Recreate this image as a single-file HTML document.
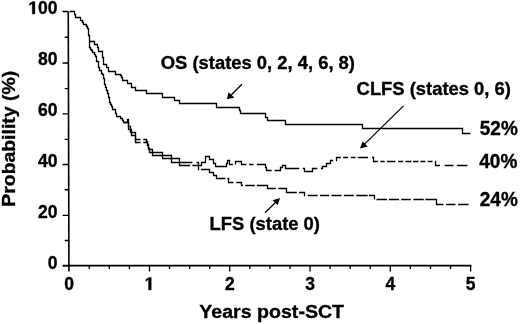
<!DOCTYPE html>
<html><head><meta charset="utf-8"><style>
html,body{margin:0;padding:0;background:#fff;}
svg{display:block;filter:blur(0.45px);}
text{font-family:"Liberation Sans",sans-serif;font-weight:bold;fill:#000;stroke:#000;stroke-width:0.35px;}
</style></head><body>
<svg width="520" height="324" viewBox="0 0 520 324">
<g stroke="#000" fill="none">
<path d="M68.25 11.5L68.95 271.5" stroke-width="1.6"/>
<path d="M63.1 265.7H471.4" stroke-width="1.8"/>
<path d="M62.5 265.70H68.9 M64.7 240.50H68.9 M62.5 215.40H68.8 M64.7 189.80H68.7 M62.5 164.50H68.7 M64.7 139.40H68.6 M62.5 113.90H68.5 M64.7 88.60H68.5 M62.5 63.00H68.4 M64.7 37.20H68.3 M62.5 11.50H68.2" stroke-width="1.4"/>
<path d="M89.27 265.7V269 M109.34 265.7V269 M129.41 265.7V269 M149.48 265.7V271.6 M169.55 265.7V269 M189.62 265.7V269 M209.69 265.7V269 M229.76 265.7V271.6 M249.83 265.7V269 M269.90 265.7V269 M289.97 265.7V269 M310.04 265.7V271.6 M330.11 265.7V269 M350.18 265.7V269 M370.25 265.7V269 M390.32 265.7V271.6 M410.39 265.7V269 M430.46 265.7V269 M450.53 265.7V269 M470.60 265.7V271.6" stroke-width="1.3"/>
</g>
<g stroke="#000" stroke-width="1.3" fill="none">
<path d="M69.5 11.5H74.5V14.5H75.5V17.5H80.5V20.5H82.5V22.5H83.5V24.5H86.5V26.5H87.5V28.5H88.5V31.5H88.5V35.5H89.5V38.5H89.5V41.5"/>
<path d="M89.5 41.5H94.5V44.5H97.5V47.5H98.5V51.5H102.5V54.5H102.5V57.5H103.5V60.5H103.5V64.5H106.5V67.5H108.5V68.5H108.5V71.5H115.5V74.5H120.5V75.5H121.5V77.5H122.5V80.5H127.5V83.5H131.5V87.5H135.5V90.5H146.5V93.5H162.5V97.5H174.5V100.5H179.5V103.5H216.5V107.5H239.5V110.5H240.5V113.5H265.5V117.5H267.5V120.5H285.5V124.5H362.5V128.5H462.5V133.5H470.5"/>
<path d="M89.5 41.5H89.5V47.5H90.5V49.5H91.5V50.5H92.5V52.5H94.5V54.5H95.5V56.5H96.5V59.5H96.5V61.5H98.5V63.5H98.5V67.5H99.5V70.5H101.5V73.5H102.5V74.5H103.5V78.5H104.5V81.5H104.5V84.5H105.5V87.5H106.5V90.5H107.5V93.5H108.5V97.5H109.5V102.5H110.5V104.5H111.5V106.5H112.5V109.5H115.5V113.5H116.5V116.5H120.5V118.5H122.5V120.5H123.5V122.5"/>
<path d="M123.5 122.5H127.5V119.5H128.5V126.5H130.5V132.5H135.5V139.5H140.5M143.3 139.5H146.5V141.5H147.5V145.5H148.5V149.5H152.5V152.5H162.5V155.5H171.5V158.5H179.5V162.5H192.3M196.5 162.5H198.5V165.5H201.5V162.5H205.5V156.5H209.5V159.5H213.5V163.5H215.5V166.5H226.5V163.5H227.5V160.5H229.5V164.5H232.9M235.5 164.5H235.5V161.5H241.5V164.5H246.3M249.1 164.5H253.5M256.8 164.5H265.5V167.5H266.5V170.5H271.7M274.6 170.5H280.5V167.5H282.5V165.5H285.5V168.5H299.2M302.7 168.5H304.5V171.5H312.5V168.5H317.3M320.8 168.5H322.5V166.5H326.5V163.5H330.5V160.5H333.2M336.0 160.5H336.5V157.5H340.9M343.2 157.5H348.2M350.9 157.5H355.5M357.8 157.5H368.0M372.0 157.5H373.5V161.5H378.0M380.4 161.5H384.6M386.9 161.5H395.4M398.0 161.5H403.3M405.4 161.5H411.5M413.1 161.5H418.5M420.4 161.5H425.4M427.7 161.5H432.5M435.0 161.5H435.5V165.5H440.0M444.6 165.5H453.5M456.9 165.5H467.5"/>
<path d="M123.5 122.5H128.5V129.5H131.5V135.5H135.5V142.5H140.5M143.3 142.5H147.5V144.5H148.5V148.5H149.5V152.5H152.5V155.5H162.5V158.5H171.5V162.5H179.5V165.5H190.0M192.3 165.5H198.5V169.5H199.2M201.0 169.5H209.5V172.5H213.5V175.5H216.5V178.5H225.4M227.3 178.5H228.5V182.5H233.5M236.2 182.5H241.5V185.5H242.9M245.2 185.5H254.8M256.8 185.5H267.5V188.5H276.0M278.3 188.5H286.5V192.5H296.8M299.0 192.5H304.5V195.5H305.2M307.7 195.5H317.7M320.0 195.5H329.2M331.5 195.5H341.5M343.8 195.5H353.8M356.2 195.5H367.7M368.9 195.5H374.5V199.5M376.5 199.5H386.9M388.8 199.5H399.2M401.2 199.5H410.9M413.3 199.5H423.8M425.3 199.5H436.5V204.5H443.4M446.0 204.5H455.5M458.1 204.5H468.5"/>
</g>
<g stroke="#000" stroke-width="1.25">
<line x1="241.9" y1="84.3" x2="230" y2="96.3"/>
<line x1="403.5" y1="105.9" x2="363" y2="145.6"/>
<line x1="265" y1="212.7" x2="277" y2="201"/>
</g>
<g fill="#000">
<polygon points="227,99.3 228.4,92.2 234.4,97.4"/>
<polygon points="360,148.5 362.6,141.4 367.7,146.4"/>
<polygon points="280,197.9 272.6,200.3 277.7,205.2"/>
</g>
<g fill="#000">
<text transform="translate(69.20 290.00) scale(1 1.04)" font-size="17.5" text-anchor="middle">0</text>
<path transform="translate(144.61 290) scale(0.00854 -0.00889)" d="M455 0V1170L140 959V1180L493 1409H780V0Z" stroke="#000" stroke-width="0.35" vector-effect="non-scaling-stroke"/>
<text transform="translate(229.76 290.00) scale(1 1.04)" font-size="17.5" text-anchor="middle">2</text>
<text transform="translate(310.04 290.00) scale(1 1.04)" font-size="17.5" text-anchor="middle">3</text>
<text transform="translate(390.32 290.00) scale(1 1.04)" font-size="17.5" text-anchor="middle">4</text>
<text transform="translate(470.60 290.00) scale(1 1.04)" font-size="17.5" text-anchor="middle">5</text>
<text transform="translate(57.50 14.10) scale(1 1.04)" font-size="17.5" text-anchor="end">00</text>
<text transform="translate(57.50 65.00) scale(1 1.04)" font-size="17.5" text-anchor="end">80</text>
<text transform="translate(57.50 115.90) scale(1 1.04)" font-size="17.5" text-anchor="end">60</text>
<text transform="translate(57.50 166.80) scale(1 1.04)" font-size="17.5" text-anchor="end">40</text>
<text transform="translate(57.50 217.70) scale(1 1.04)" font-size="17.5" text-anchor="end">20</text>
<text transform="translate(57.50 268.60) scale(1 1.04)" font-size="17.5" text-anchor="end">0</text>
<path transform="translate(28.30 14.1) scale(0.00854 -0.00889)" d="M455 0V1170L140 959V1180L493 1409H780V0Z" stroke="#000" stroke-width="0.35" vector-effect="non-scaling-stroke"/>
<text transform="translate(199.30 318.00) scale(1 0.97)" font-size="19.6" stroke-width="0.15">Years post-SCT</text>
<text transform="translate(15.30 206.70) rotate(-90) scale(1 0.97)" font-size="19.4">Probability (%)</text>
<text transform="translate(160.80 68.90) scale(1 0.98)" font-size="18.4" stroke-width="0.2">OS (states 0, 2, 4, 6, 8)</text>
<text transform="translate(356.60 95.30) scale(1 0.98)" font-size="18.4" stroke-width="0.2">CLFS (states 0, 6)</text>
<text transform="translate(209.60 229.60) scale(1 0.98)" font-size="18.4" stroke-width="0.2">LFS (state 0)</text>
<text transform="translate(479.80 135.00) scale(1 1.04)" font-size="19">52%</text>
<text transform="translate(479.30 167.60) scale(1 1.04)" font-size="19">40%</text>
<text transform="translate(479.80 205.70) scale(1 1.04)" font-size="19">24%</text>
</g>
</svg>
</body></html>
